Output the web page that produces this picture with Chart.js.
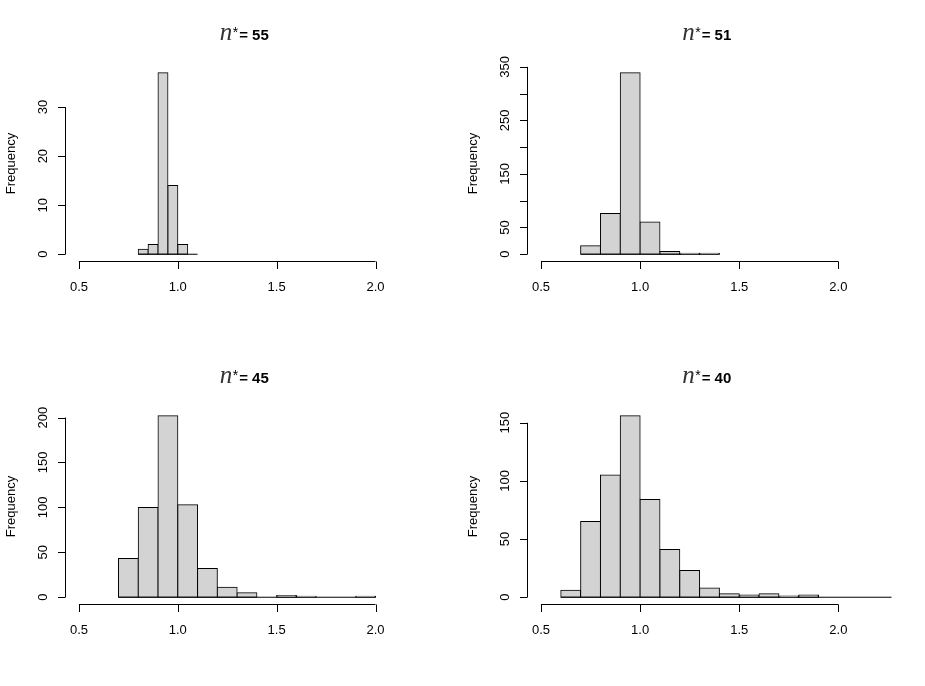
<!DOCTYPE html>
<html>
<head>
<meta charset="utf-8">
<title>Histograms</title>
<script src="https://cdn.jsdelivr.net/npm/chart.js@4.4.1/dist/chart.umd.min.js"></script>
<style>
  html, body { margin: 0; padding: 0; background: #fff; }
  #page { position: relative; width: 925px; height: 686px; overflow: hidden; }
  .panel { position: absolute; }
</style>
</head>
<body>
<div id="page">
  <div class="panel" style="left:0;top:0"><canvas id="c55" width="462" height="343"></canvas></div>
  <div class="panel" style="left:462px;top:0"><canvas id="c51" width="463" height="343"></canvas></div>
  <div class="panel" style="left:0;top:343px"><canvas id="c45" width="462" height="343"></canvas></div>
  <div class="panel" style="left:462px;top:343px"><canvas id="c40" width="463" height="343"></canvas></div>
</div>
<script>
// bin breaks and counts for each panel
const breaks55 = [0.80, 0.85, 0.90, 0.95, 1.00, 1.05, 1.10];
const counts55 = [1, 2, 37, 14, 2, 0];

const breaks51 = [0.7, 0.8, 0.9, 1.0, 1.1, 1.2, 1.3, 1.4];
const counts51 = [16, 76, 339, 60, 5, 2, 2];

const breaks45 = [0.7, 0.8, 0.9, 1.0, 1.1, 1.2, 1.3, 1.4, 1.5, 1.6, 1.7, 1.8, 1.9, 2.0];
const counts45 = [43, 100, 202, 103, 32, 11, 5, 0, 2, 1, 0, 0, 1];

const breaks40 = [0.6, 0.7, 0.8, 0.9, 1.0, 1.1, 1.2, 1.3, 1.4, 1.5, 1.6, 1.7, 1.8, 1.9, 2.0, 2.1, 2.2, 2.3];
const counts40 = [6, 65, 105, 156, 84, 41, 23, 8, 3, 2, 3, 1, 2, 0, 0, 0, 0];

const xTicks = [0.5, 1.0, 1.5, 2.0];
const xTickLabels = ["0.5", "1.0", "1.5", "2.0"];
const yTicks55 = [0, 10, 20, 30];
const yTicks51 = [0, 50, 100, 150, 200, 250, 300, 350];
const yTicks45 = [0, 50, 100, 150, 200];
const yTicks40 = [0, 50, 100, 150];

// x limits as in R's hist(xlim = c(0.5, 2.2)), with the usual 4% extension
const xlim = [0.5, 2.2];

// draws R-style axes, labels and the plotmath-like title
const rAxes = {
  id: "rAxes",
  afterDatasetsDraw(chart, args, opts) {
    const { ctx, chartArea: area, scales: { x, y } } = chart;
    const b = opts.breaks;
    ctx.save();
    ctx.beginPath();
    ctx.rect(area.left, area.top, area.right - area.left, area.bottom - area.top);
    ctx.clip();
    // zero-count bins show up as a line along the bottom
    const y0 = y.getPixelForValue(0);
    ctx.strokeStyle = "#000";
    ctx.lineWidth = 1;
    ctx.beginPath();
    ctx.moveTo(x.getPixelForValue(b[0]), y0);
    ctx.lineTo(x.getPixelForValue(b[b.length - 1]), y0);
    ctx.stroke();
    ctx.restore();
  },
  afterDraw(chart, args, opts) {
    const { ctx, chartArea: area, scales: { x, y } } = chart;
    const bottom = area.bottom, left = area.left;
    ctx.save();
    ctx.strokeStyle = "#000";
    ctx.fillStyle = "#000";
    ctx.lineWidth = 1;

    // x axis
    const xt = opts.xTicks;
    ctx.beginPath();
    ctx.moveTo(x.getPixelForValue(xt[0]), bottom);
    ctx.lineTo(x.getPixelForValue(xt[xt.length - 1]), bottom);
    xt.forEach(v => {
      const px = Math.round(x.getPixelForValue(v)) + 0.5;
      ctx.moveTo(px, bottom);
      ctx.lineTo(px, bottom + 7.5);
    });
    ctx.stroke();
    ctx.font = '13px "Liberation Sans", Arial, sans-serif';
    ctx.textAlign = "center";
    ctx.textBaseline = "alphabetic";
    xt.forEach((v, i) => {
      ctx.fillText(opts.xLabels[i], x.getPixelForValue(v), bottom + 29.5);
    });

    // y axis
    const yt = opts.yTicks;
    ctx.beginPath();
    ctx.moveTo(left, y.getPixelForValue(yt[0]));
    ctx.lineTo(left, y.getPixelForValue(yt[yt.length - 1]));
    yt.forEach(v => {
      const py = Math.round(y.getPixelForValue(v)) + 0.5;
      ctx.moveTo(left, py);
      ctx.lineTo(left - 7.5, py);
    });
    ctx.stroke();
    // labels parallel to the axis, skipping ones that would collide (like R does)
    let lastEdge = Infinity;
    yt.forEach(v => {
      const label = String(v);
      const py = y.getPixelForValue(v);
      const w = ctx.measureText(label).width;
      if (py + w / 2 + 10 > lastEdge) return;
      lastEdge = py - w / 2;
      ctx.save();
      ctx.translate(left - 18.5, py);
      ctx.rotate(-Math.PI / 2);
      ctx.fillText(label, 0, 0);
      ctx.restore();
    });
    ctx.save();
    ctx.translate(left - 51, (area.top + area.bottom) / 2);
    ctx.rotate(-Math.PI / 2);
    ctx.fillText("Frequency", 0, 0);
    ctx.restore();

    // title: italic n, superscript star, then "= value" in bold
    const cx = (area.left + area.right) / 2 - 3;
    const base = 40;
    const rest = "= " + opts.nStar;
    ctx.font = 'italic 25px "Liberation Serif", serif';
    const wn = ctx.measureText("n").width;
    ctx.font = '14px "Liberation Sans", Arial, sans-serif';
    const ws = ctx.measureText("*").width;
    ctx.font = 'bold 15px "Liberation Sans", Arial, sans-serif';
    const wr = ctx.measureText(rest).width;
    const gap = 1;
    let tx = cx - (wn + ws + gap + wr) / 2;
    ctx.textAlign = "left";
    ctx.fillStyle = "#333";
    ctx.font = 'italic 25px "Liberation Serif", serif';
    ctx.fillText("n", tx, base);
    tx += wn + 0.5;
    ctx.fillStyle = "#000";
    ctx.font = '14px "Liberation Sans", Arial, sans-serif';
    ctx.fillText("*", tx, base - 3.5);
    tx += ws + gap;
    ctx.font = 'bold 15px "Liberation Sans", Arial, sans-serif';
    ctx.fillText(rest, tx, base);
    ctx.restore();
  }
};

const makeHist = (id, breaks, counts, yTicks, nStar) => {
  const ymax = Math.max(...counts);
  const xr = xlim[1] - xlim[0];
  const points = counts.map((c, i) => ({ x: (breaks[i] + breaks[i + 1]) / 2, y: c }));
  return new Chart(document.getElementById(id), {
    type: "bar",
    data: {
      datasets: [{
        data: points,
        backgroundColor: "#D3D3D3",
        borderColor: "#000000",
        borderWidth: 1,
        borderSkipped: false,
        inflateAmount: 0.5,
        barPercentage: 1,
        categoryPercentage: 1
      }]
    },
    options: {
      responsive: false,
      animation: false,
      devicePixelRatio: 1,
      layout: { padding: { left: 65.5, right: 33.5, top: 65.5, bottom: 81.5 } },
      scales: {
        x: { type: "linear", display: false, offset: false, min: xlim[0] - 0.04 * xr, max: xlim[1] + 0.04 * xr },
        y: { type: "linear", display: false, min: -0.04 * ymax, max: 1.04 * ymax }
      },
      plugins: {
        legend: { display: false },
        tooltip: { enabled: false },
        rAxes: { breaks: breaks, xTicks: xTicks, xLabels: xTickLabels, yTicks: yTicks, nStar: nStar }
      }
    },
    plugins: [rAxes]
  });
};

makeHist("c55", breaks55, counts55, yTicks55, "55");
makeHist("c51", breaks51, counts51, yTicks51, "51");
makeHist("c45", breaks45, counts45, yTicks45, "45");
makeHist("c40", breaks40, counts40, yTicks40, "40");
</script>
</body>
</html>
